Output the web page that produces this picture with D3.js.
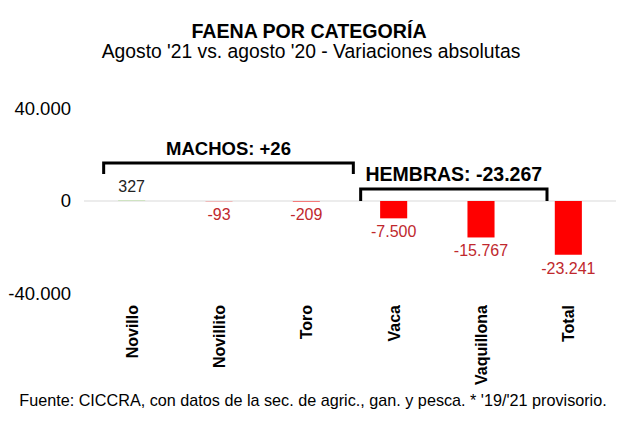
<!DOCTYPE html>
<html><head><meta charset="utf-8">
<script src="https://cdn.jsdelivr.net/npm/d3@7"></script>
<style>body{margin:0;background:#fff}svg{display:block;font-family:"Liberation Sans",Arial,sans-serif}</style>
</head><body><svg id="c" width="620" height="429"></svg>
<script>
const categories = ["Novillo","Novillito","Toro","Vaca","Vaquillona","Total"];
const values = [327,-93,-209,-7500,-15767,-23241];
const labels = ["327","-93","-209","-7.500","-15.767","-23.241"];
const yTicks = [40000,0,-40000];
const yTickLabels = ["40.000","0","-40.000"];
const groupNames = ["MACHOS: +26","HEMBRAS: -23.267"];
const groupFrom = ["Novillo","Vaca"];
const groupTo = ["Toro","Vaquillona"];

const svg = d3.select("#c");
const x = d3.scaleBand().domain(categories).range([88,612]).paddingInner(0.69).paddingOuter(0.345);
const y = d3.scaleLinear().domain([-40000,40000]).range([293.5,108.5]);
const cx = c => x(c)+x.bandwidth()/2;

svg.append("text").attr("x",309).attr("y",38).attr("text-anchor","middle")
  .attr("font-weight","bold").attr("font-size",19.6).text("FAENA POR CATEGORÍA");
svg.append("text").attr("x",311).attr("y",58).attr("text-anchor","middle")
  .attr("font-size",19.3).text("Agosto '21 vs. agosto '20 - Variaciones absolutas");

// y axis labels
const ya = d3.axisLeft(y).tickValues(yTicks).tickFormat((d,i)=>yTickLabels[i]).tickSize(0).tickPadding(0);
const g = svg.append("g").attr("transform","translate(71,0)").call(ya);
g.select(".domain").remove();
g.selectAll("text").attr("font-size",18.5).attr("font-family","Liberation Sans, Arial, sans-serif").attr("fill","#000");

// zero line
svg.append("line").attr("x1",84).attr("x2",616).attr("y1",y(0)).attr("y2",y(0))
  .attr("stroke","#d9d9d9").attr("stroke-width",1);

// bars
svg.selectAll("rect.bar").data(values).join("rect").attr("class","bar")
  .attr("x",(d,i)=>x(categories[i])).attr("width",x.bandwidth())
  .attr("y",d=>y(Math.max(0,d))).attr("height",d=>Math.abs(y(d)-y(0)))
  .attr("fill",d=>d>=0?"#c5e0b4":"#ff0000");

// value labels
svg.selectAll("text.val").data(values).join("text").attr("class","val")
  .attr("x",(d,i)=>cx(categories[i]))
  .attr("y",d=>d>=0? y(d)-8 : y(d)+19)
  .attr("text-anchor","middle").attr("font-size",16)
  .attr("fill",d=>d>=0?"#222":"#c0282d")
  .text((d,i)=>labels[i]);

// category labels
const xa = svg.append("g");
categories.forEach(c=>{
  xa.append("text").attr("transform",`translate(${cx(c)+6},305) rotate(-90)`)
    .attr("text-anchor","end").attr("font-weight","bold").attr("font-size",16).text(c);
});

// brackets
const bTop=[163,189], bBot=[174,201], bL=[-28,-33], bR=[47,66];
const bFont=[18.5,19.5];
groupNames.forEach((n,i)=>{
  const x1=cx(groupFrom[i])+bL[i], x2=cx(groupTo[i])+bR[i];
  svg.append("path").attr("d",`M${x1},${bBot[i]}V${bTop[i]}H${x2}V${bBot[i]}`)
    .attr("fill","none").attr("stroke","#000").attr("stroke-width",3);
  svg.append("text").attr("x",(x1+x2)/2).attr("y",bTop[i]-8).attr("text-anchor","middle")
    .attr("font-weight","bold").attr("font-size",bFont[i]).text(n);
});

svg.append("text").attr("x",313).attr("y",406).attr("text-anchor","middle").attr("font-size",16.2)
  .text("Fuente: CICCRA, con datos de la sec. de agric., gan. y pesca. * '19/'21 provisorio.");
</script></body></html>
